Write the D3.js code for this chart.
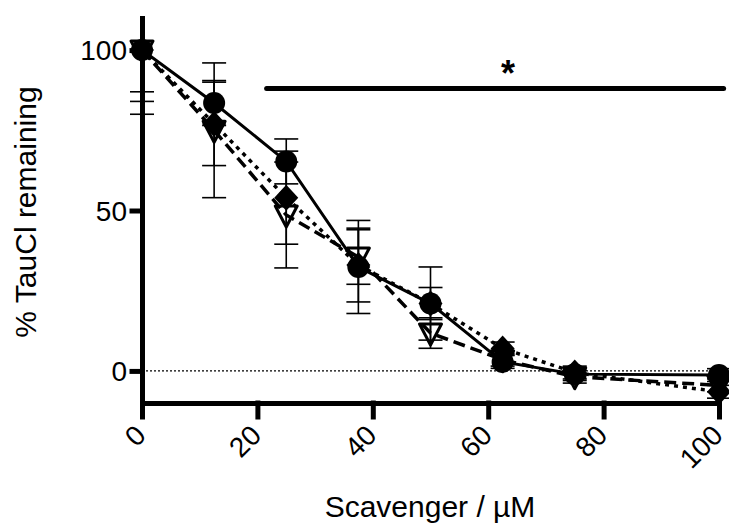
<!DOCTYPE html>
<html lang="en">
<head>
<meta charset="UTF-8">
<title>TauCl remaining</title>
<style type="text/css">
	body{ margin: 0; background: #fff; }
	svg { font-family: Arial, "Liberation Sans", sans-serif; }
	.axis path, .axis line { fill: none; stroke: #000; stroke-width: 5px; stroke-linecap: square }
	.axis text { font-size: 28px; fill: #000 }
	.label { font-size: 30px; fill: #000 }
	.err { stroke: #000; stroke-width: 1.6px; fill: none }
</style>
<script src="https://cdn.jsdelivr.net/npm/d3@7"></script>
</head>
<body>
<script type="text/javascript">

// values
var conc = [0, 12.5, 25, 37.5, 50, 62.5, 75, 100];

var circleMean   = [100, 83.5, 65.3, 32.4, 21, 2.8, -1, -1.3];
var circleSD     = [13, 7, 7, 14.5, 11.4, 2, 2, 2];
var diamondMean  = [100, 77, 54, 33, 21, 7, -0.5, -6.5];
var diamondSD    = [16, 13, 14.5, 11.5, 5, 2, 2, 2];
var triangleMean = [100, 75, 48.6, 35.5, 11.8, 3.5, -1.8, -4.5];
var triangleSD   = [20, 21, 16.5, 8.5, 4.75, 2, 2, 2];

var xTicks = [0, 20, 40, 60, 80, 100];
var yTicks = [0, 50, 100];
var sigBar = [21.6, 100.8];
var sigLevel = 88;

var width = 729, height = 524;
var svg = d3.select('body').append('svg')
	.attr('width', width)
	.attr('height', height);

var xScale = d3.scaleLinear().domain([0, 100]).range([142, 719]);
var yScale = d3.scaleLinear().domain([-10, 110]).range([403, 18]);

var series = [
	{ mean: circleMean, sd: circleSD, dash: null, shape: 'circle' },
	{ mean: diamondMean, sd: diamondSD, dash: '4,5', shape: 'diamond' },
	{ mean: triangleMean, sd: triangleSD, dash: '12,6', shape: 'triangle' }
];

svg.append('clipPath').attr('id', 'plot')
	.append('rect')
	.attr('x', xScale(0) - 30).attr('y', yScale(110))
	.attr('width', xScale(100) - xScale(0) + 60)
	.attr('height', yScale(-10) - yScale(110));

// zero line
svg.append('line')
	.attr('x1', xScale(0)).attr('x2', xScale(100))
	.attr('y1', yScale(0)).attr('y2', yScale(0))
	.attr('stroke', '#000').attr('stroke-width', 1.2)
	.attr('stroke-dasharray', '2,2');

var plot = svg.append('g').attr('clip-path', 'url(#plot)');

var line = d3.line()
	.x(d => xScale(d[0]))
	.y(d => yScale(d[1]));

series.forEach(s => {
	var pts = conc.map((c, i) => [c, s.mean[i]]);
	plot.append('path')
		.datum(pts)
		.attr('d', line)
		.attr('fill', 'none')
		.attr('stroke', '#000')
		.attr('stroke-width', s.dash ? 3.5 : 3)
		.attr('stroke-dasharray', s.dash);
});

// error bars
series.forEach(s => {
	conc.forEach((c, i) => {
		var x = xScale(c), hi = yScale(s.mean[i] + s.sd[i]), lo = yScale(s.mean[i] - s.sd[i]);
		var g = plot.append('g').attr('class', 'err');
		g.append('line').attr('x1', x).attr('x2', x).attr('y1', hi).attr('y2', lo);
		g.append('line').attr('x1', x - 12).attr('x2', x + 12).attr('y1', hi).attr('y2', hi);
		g.append('line').attr('x1', x - 12).attr('x2', x + 12).attr('y1', lo).attr('y2', lo);
	});
});

// markers
var diamondPath = 'M0,-13L12,0L0,13L-12,0Z';
var trianglePath = 'M-11,-9L11,-9L0,12Z';
series.slice().reverse().forEach(s => {
	conc.forEach((c, i) => {
		var g = plot.append('g')
			.attr('transform', 'translate(' + xScale(c) + ',' + yScale(s.mean[i]) + ')');
		if (s.shape == 'circle')
			g.append('circle').attr('r', 11).attr('fill', '#000');
		else if (s.shape == 'diamond')
			g.append('path').attr('d', diamondPath).attr('fill', '#000');
		else
			g.append('path').attr('d', trianglePath).attr('fill', 'none')
				.attr('stroke', '#000').attr('stroke-width', 3).attr('stroke-linejoin', 'round');
	});
});

// axes
var yAxis = d3.axisLeft(yScale).tickValues(yTicks).tickSize(10).tickSizeOuter(0).tickPadding(5);
var xAxis = d3.axisBottom(xScale).tickValues(xTicks).tickSize(14).tickSizeOuter(0);

svg.append('g')
	.attr('class', 'y axis')
	.attr('transform', 'translate(' + xScale(0) + ',0)')
	.call(yAxis)
	.selectAll('text').attr('dy', '0.35em');

var gx = svg.append('g')
	.attr('class', 'x axis')
	.attr('transform', 'translate(0,' + yScale(-10) + ')')
	.call(xAxis);
gx.selectAll('text')
	.attr('text-anchor', 'end')
	.attr('dy', null)
	.attr('y', null)
	.attr('transform', 'translate(5,34) rotate(-45)');

// significance bar
svg.append('line')
	.attr('x1', xScale(sigBar[0])).attr('x2', xScale(sigBar[1]))
	.attr('y1', yScale(sigLevel)).attr('y2', yScale(sigLevel))
	.attr('stroke', '#000').attr('stroke-width', 5).attr('stroke-linecap', 'round');

svg.append('text')
	.attr('x', 508).attr('y', 86)
	.attr('text-anchor', 'middle')
	.style('font-size', '36px').style('font-weight', 'bold')
	.text('*');

// axis titles
svg.append('text')
	.attr('class', 'label')
	.attr('x', 430).attr('y', 517)
	.attr('text-anchor', 'middle')
	.text('Scavenger / µM');

svg.append('text')
	.attr('class', 'label')
	.attr('transform', 'translate(36,212) rotate(-90)')
	.attr('text-anchor', 'middle')
	.text('% TauCl remaining');

</script>
</body>
</html>
